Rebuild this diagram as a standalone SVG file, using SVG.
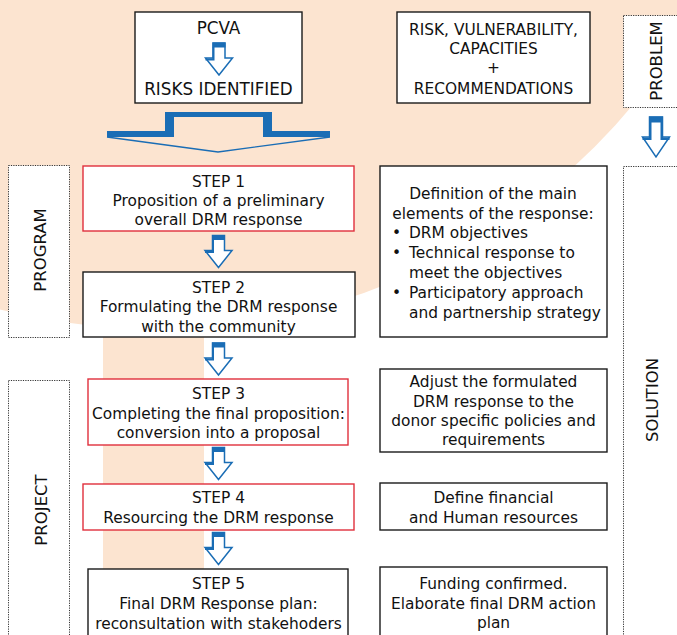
<svg xmlns="http://www.w3.org/2000/svg" xmlns:xlink="http://www.w3.org/1999/xlink" width="677" height="635" viewBox="0 0 677 635">
<style>
  .box { fill: #fff; stroke: #1a1a1a; stroke-width: 1.4; }
  .red { fill: #fff; stroke: #e0303c; stroke-width: 1.4; }
  .dot { fill: #fff; stroke: #333; stroke-width: 1; stroke-dasharray: 1.2 1.2; }
  text { font-family: "DejaVu Sans", Verdana, sans-serif; fill: #111; }
  .t { font-size: 15.4px; text-anchor: middle; }
  .l { font-size: 15.4px; }
  .cap { font-size: 16.8px; text-anchor: middle; }
  .side { font-size: 16.5px; text-anchor: middle; }
  .arrow { fill: #fff; stroke: #1a6db5; stroke-width: 1.5; stroke-linejoin: miter; }
  .afill { fill: #1a6db5; }
</style>
<defs>
  <g id="sa">
    <path class="arrow" d="M-6,0 H6 V15 H13.5 L0,32 L-13.5,15 H-6 Z"/>
    <rect class="afill" x="-6.5" y="-0.5" width="13" height="5"/>
    <path class="afill" d="M-6.5,4 V15.5 H-13.5 V17.5 H-4.5 V4 Z"/>
  </g>
</defs>

<!-- background -->
<rect x="0" y="0" width="677" height="635" fill="#fff"/>
<circle cx="155" cy="-293" r="622" fill="#fce4d0"/>
<rect x="103" y="290" width="101" height="345" fill="#fce4d0"/>

<!-- side labels -->
<g id="problem">
  <rect class="dot" x="623.5" y="15.5" width="60" height="92"/>
  <text class="side" transform="translate(662,61) rotate(-90)">PROBLEM</text>
</g>
<g id="solution">
  <rect class="dot" x="623.5" y="166.5" width="60" height="480"/>
  <text class="side" transform="translate(658,400) rotate(-90)">SOLUTION</text>
</g>
<g id="program">
  <rect class="dot" x="8.5" y="165.5" width="61" height="172"/>
  <text class="side" transform="translate(46,250) rotate(-90)" font-size="17">PROGRAM</text>
</g>
<g id="project">
  <rect class="dot" x="8.5" y="380.5" width="61" height="270"/>
  <text class="side" transform="translate(46.5,510) rotate(-90)" font-size="17">PROJECT</text>
</g>

<!-- top boxes -->
<g id="pcva">
  <rect class="box" x="135" y="12" width="167" height="91"/>
  <text class="cap" x="218.5" y="34">PCVA</text>
  <text class="cap" x="218.5" y="95">RISKS IDENTIFIED</text>
</g>
<g id="rvc">
  <rect class="box" x="397" y="12" width="193" height="91"/>
  <text class="t" x="493.5" y="35">RISK, VULNERABILITY,</text>
  <text class="t" x="493.5" y="54">CAPACITIES</text>
  <text class="t" x="493.5" y="73" font-size="11">+</text>
  <text class="t" x="493.5" y="94">RECOMMENDATIONS</text>
</g>

<!-- steps -->
<g id="step1">
  <rect class="red" x="83" y="166" width="271" height="65"/>
  <text class="t" x="218.5" y="187">STEP 1</text>
  <text class="t" x="218.5" y="206">Proposition of a preliminary</text>
  <text class="t" x="218.5" y="225">overall DRM response</text>
</g>
<g id="step2">
  <rect class="box" x="83" y="272" width="272" height="65"/>
  <text class="t" x="218.5" y="292.5">STEP 2</text>
  <text class="t" x="218.5" y="312">Formulating the DRM response</text>
  <text class="t" x="218.5" y="331.5">with the community</text>
</g>
<g id="step3">
  <rect class="red" x="88" y="379" width="260" height="66"/>
  <text class="t" x="218.5" y="399">STEP 3</text>
  <text class="t" x="218.5" y="418.5">Completing the final proposition:</text>
  <text class="t" x="218.5" y="438">conversion into a proposal</text>
</g>
<g id="step4">
  <rect class="red" x="83" y="484" width="271" height="46"/>
  <text class="t" x="218.5" y="503">STEP 4</text>
  <text class="t" x="218.5" y="523">Resourcing the DRM response</text>
</g>
<g id="step5">
  <rect class="box" x="88" y="569" width="260" height="80"/>
  <text class="t" x="218.5" y="589">STEP 5</text>
  <text class="t" x="218.5" y="609">Final DRM Response plan:</text>
  <text class="t" x="218.5" y="629">reconsultation with stakehoders</text>
</g>

<!-- right column -->
<g id="definition">
  <rect class="box" x="380" y="166" width="227" height="171"/>
  <text class="t" x="493" y="199">Definition of the main</text>
  <text class="t" x="493" y="218.5">elements of the response:</text>
  <text class="l" x="392" y="238">•</text>
  <text class="l" x="409" y="238">DRM objectives</text>
  <text class="l" x="392" y="258">•</text>
  <text class="l" x="409" y="258">Technical response to</text>
  <text class="l" x="409" y="278">meet the objectives</text>
  <text class="l" x="392" y="298">•</text>
  <text class="l" x="409" y="298">Participatory approach</text>
  <text class="l" x="409" y="317.5">and partnership strategy</text>
</g>
<g id="adjust">
  <rect class="box" x="380" y="369" width="227" height="83"/>
  <text class="t" x="493.5" y="387">Adjust the formulated</text>
  <text class="t" x="493.5" y="406.5">DRM response to the</text>
  <text class="t" x="493.5" y="426">donor specific policies and</text>
  <text class="t" x="493.5" y="445">requirements</text>
</g>
<g id="financial">
  <rect class="box" x="380" y="483" width="227" height="47"/>
  <text class="t" x="493.5" y="503">Define financial</text>
  <text class="t" x="493.5" y="523">and Human resources</text>
</g>
<g id="funding">
  <rect class="box" x="380" y="567" width="227" height="80"/>
  <text class="t" x="493.5" y="588.5">Funding confirmed.</text>
  <text class="t" x="493.5" y="608.5">Elaborate final DRM action</text>
  <text class="t" x="493.5" y="628">plan</text>
</g>

<!-- connectors -->
<g id="connectors">
  <use xlink:href="#sa" href="#sa" x="219" y="43"/>
  <path class="afill" d="M107,131 H165 V112 H272 V131 H330 V137 H263 V117 H174 V137 H107 Z"/>
  <path d="M107,137 L218,152 L330,137" fill="none" stroke="#1a6db5" stroke-width="1.3"/>
  <use xlink:href="#sa" href="#sa" x="218.5" y="235.5"/>
  <use xlink:href="#sa" href="#sa" x="218.5" y="343"/>
  <use xlink:href="#sa" href="#sa" x="218.5" y="447.5"/>
  <use xlink:href="#sa" href="#sa" x="218.5" y="532.5"/>
  <g transform="translate(656,117)">
    <path class="arrow" d="M-6.5,0 H6.5 V20 H13.5 L0,40 L-13.5,20 H-6.5 Z"/>
    <rect class="afill" x="-7" y="-0.5" width="14" height="6"/>
    <path class="afill" d="M-7,5 V20.5 H-13.5 V23 H-4.5 V5 Z"/>
    <path class="afill" d="M4.5,5 V23 H13.5 V20.5 H7 V5 Z"/>
  </g>
</g>
</svg>
